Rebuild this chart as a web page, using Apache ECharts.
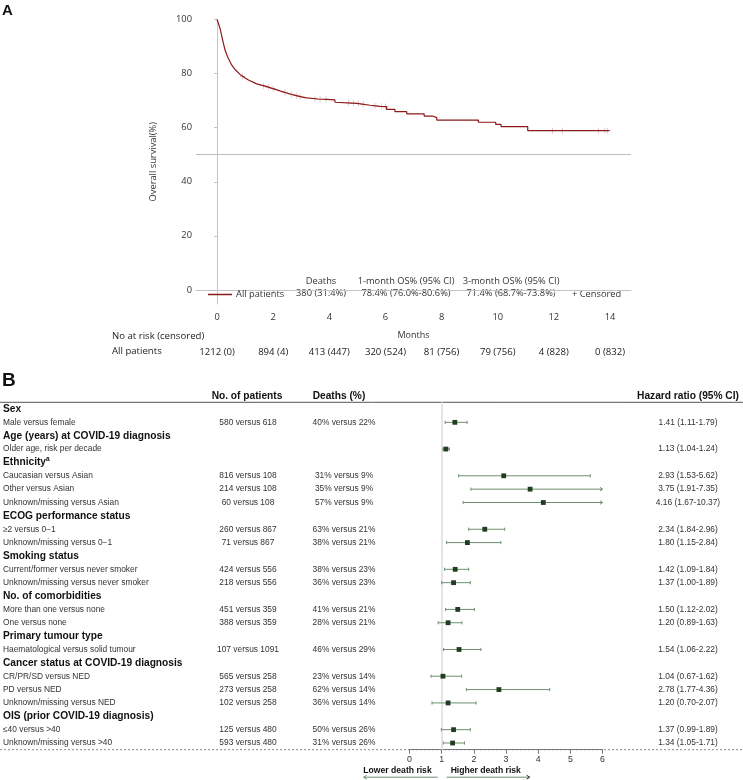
<!DOCTYPE html>
<html><head><meta charset="utf-8">
<script src="https://cdn.jsdelivr.net/npm/echarts@6/dist/echarts.min.js"></script>
<style>html,body{margin:0;padding:0;background:#fff}#c{width:743px;height:780px}</style>
</head><body><div id="c"></div>
<script>
// ---------- Panel A data ----------
const kmMonths   = [0,0.05,0.107,0.2,0.285,0.37,0.52,0.65,0.82,1.0,1.12,1.41,1.77,2.24,2.72,3.0,3.2,3.6,3.91,4.2,4.2,4.98,5.45,5.8,6.04,6.04,6.34,6.34,6.76,6.76,7.38,7.38,7.68,7.68,7.83,7.83,9.31,9.31,9.93,9.93,10.12,10.12,11.07,11.07,13.98];
const kmSurvival = [100,98.5,96.7,92.4,88.7,86.3,83.2,81.4,79.7,78.4,77.6,76.2,75.2,73.6,72.1,71.4,71.0,70.6,70.5,70.3,69.4,69.0,68.3,67.9,67.8,66.8,66.8,65.9,65.9,65.1,65.1,64.3,64.3,63.7,63.7,62.8,62.8,62.0,62.0,61.2,61.2,60.4,60.4,58.9,58.9];
const censorMonths   = [0.91,1.65,1.83,2.0,2.42,2.66,2.84,2.96,3.49,3.67,3.88,4.68,4.86,5.03,5.21,5.63,5.85,6.0,11.95,12.3,13.59,13.82,13.92];
const censorSurvival = [79.0,75.5,75.0,74.4,73.0,72.3,71.8,71.5,70.7,70.6,70.5,69.2,69.1,68.9,68.7,68.1,67.9,67.8,58.9,58.9,58.9,58.9,58.9];
const riskMonths = [0,2,4,6,8,10,12,14];
const atRisk = ['1212 (0)','894 (4)','413 (447)','320 (524)','81 (756)','79 (756)','4 (828)','0 (832)'];
const survivalTicks = [0,20,40,60,80,100];
const referenceSurvival = 50;
const statHeads  = ['Deaths','1-month OS% (95% CI)','3-month OS% (95% CI)'];
const statValues = ['380 (31.4%)','78.4% (76.0%-80.6%)','71.4% (68.7%-73.8%)'];

// ---------- Panel B data ----------
const rowLabels = ['Sex','Male versus female','Age (years) at COVID-19 diagnosis','Older age, risk per decade','Ethnicity^a',
  'Caucasian versus Asian','Other versus Asian','Unknown/missing versus Asian','ECOG performance status','\u22652 versus 0\u22121',
  'Unknown/missing versus 0\u22121','Smoking status','Current/former versus never smoker','Unknown/missing versus never smoker',
  'No. of comorbidities','More than one versus none','One versus none','Primary tumour type','Haematological versus solid tumour',
  'Cancer status at COVID-19 diagnosis','CR/PR/SD versus NED','PD versus NED','Unknown/missing versus NED',
  'OIS (prior COVID-19 diagnosis)','\u226440 versus >40','Unknown/missing versus >40'];
const patients = ['','580 versus 618','','','','816 versus 108','214 versus 108','60 versus 108','','260 versus 867','71 versus 867','',
  '424 versus 556','218 versus 556','','451 versus 359','388 versus 359','','107 versus 1091','','565 versus 258','273 versus 258',
  '102 versus 258','','125 versus 480','593 versus 480'];
const deathsPct = ['','40% versus 22%','','','','31% versus 9%','35% versus 9%','57% versus 9%','','63% versus 21%','38% versus 21%','',
  '38% versus 23%','36% versus 23%','','41% versus 21%','28% versus 21%','','46% versus 29%','','23% versus 14%','62% versus 14%',
  '36% versus 14%','','50% versus 26%','31% versus 26%'];
const hr     = [null,1.41,null,1.13,null,2.93,3.75,4.16,null,2.34,1.80,null,1.42,1.37,null,1.50,1.20,null,1.54,null,1.04,2.78,1.20,null,1.37,1.34];
const ciLow  = [null,1.11,null,1.04,null,1.53,1.91,1.67,null,1.84,1.15,null,1.09,1.00,null,1.12,0.89,null,1.06,null,0.67,1.77,0.70,null,0.99,1.05];
const ciHigh = [null,1.79,null,1.24,null,5.62,7.35,10.37,null,2.96,2.84,null,1.84,1.89,null,2.02,1.63,null,2.22,null,1.62,4.36,2.07,null,1.89,1.71];
const hrTicks = [0,1,2,3,4,5,6];
const nullHR = 1;

// ---------- layout ----------
const KM = {left:196, top:19.5, width:435, height:284.5};
const FP = {left:407.5, top:402.3, width:195, height:347.4};
const W = 743;
const sansA = '"Open Sans", "Noto Sans", sans-serif';
const sansB = '"Liberation Sans", Arial, sans-serif';
const kmGray = '#c4c4c4';
const ciColor = '#6f8f6f';
const boxColor = '#1f3d1f';

const kmData = kmMonths.map((m,i)=>[m,kmSurvival[i]]);
const censorData = censorMonths.map((m,i)=>[m,censorSurvival[i]]);
const forestData = [];
hr.forEach((v,i)=>{ if (v!==null) forestData.push([i,v,ciLow[i],ciHigh[i]]); });
const hrText = hr.map((v,i)=> v===null ? '' : v.toFixed(2)+' ('+ciLow[i].toFixed(2)+'-'+ciHigh[i].toFixed(2)+')');
const rowCats = rowLabels.map((_,i)=>String(i));

function rowLabelFmt(val, idx){
  const lab = rowLabels[idx];
  if (hr[idx]===null){
    const parts = lab.split('^');
    return '{h|'+parts[0]+'}' + (parts[1] ? '{sup|'+parts[1]+'}' : '');
  }
  return '{r|'+lab+'}';
}

const chart = echarts.init(document.getElementById('c'), null, {renderer:'canvas'});

const catAxisBase = {
  type:'category', gridIndex:1, data:rowCats, inverse:true,
  axisLine:{show:false}, axisTick:{show:false}, splitLine:{show:false}
};

const option = {
  animation:false,
  backgroundColor:'#fff',
  grid:[
    Object.assign({}, KM),
    Object.assign({}, FP)
  ],
  legend:{
    data:['All patients'], left:203, top:285, icon:'rect', itemWidth:24, itemHeight:1.5, itemGap:5,
    textStyle:{fontFamily:sansA, fontSize:9.3, color:'#333', padding:[0,0,0,-1]}
  },
  xAxis:[
    { type:'value', gridIndex:0, min:-0.75, max:14.75, position:'bottom',
      axisLine:{show:true, lineStyle:{color:kmGray}},
      axisTick:{show:true, customValues:riskMonths, length:3, lineStyle:{color:kmGray}},
      axisLabel:{customValues:riskMonths, margin:9, fontFamily:sansA, fontSize:9.3, color:'#333'},
      splitLine:{show:false},
      name:'Months', nameLocation:'middle', nameGap:27,
      nameTextStyle:{fontFamily:sansA, fontSize:9, color:'#333'} },
    { type:'value', gridIndex:0, min:-0.75, max:14.75, position:'bottom', offset:41,
      axisLine:{show:false}, axisTick:{show:false}, splitLine:{show:false},
      axisLabel:{customValues:riskMonths, margin:2, fontFamily:sansA, fontSize:9.6, color:'#222',
        formatter:(v)=>{ const k = riskMonths.indexOf(Math.round(v)); return k>=0 ? atRisk[k] : ''; }} },
    { type:'value', gridIndex:1, min:hrTicks[0], max:hrTicks[hrTicks.length-1], interval:1, position:'bottom',
      axisLine:{show:true, onZero:false, lineStyle:{color:'#777'}},
      axisTick:{show:true, length:4, lineStyle:{color:'#777'}},
      axisLabel:{margin:5, fontFamily:sansB, fontSize:8.8, color:'#333'},
      splitLine:{show:false} }
  ],
  yAxis:[
    { type:'value', gridIndex:0, min:-5.2, max:100,
      axisLine:{show:true, lineStyle:{color:kmGray}},
      axisTick:{show:true, customValues:survivalTicks, length:3, lineStyle:{color:kmGray}},
      axisLabel:{customValues:survivalTicks, margin:4, fontFamily:sansA, fontSize:9.3, color:'#333'},
      splitLine:{show:false},
      name:'Overall survival(%)', nameLocation:'middle', nameGap:38, nameRotate:90,
      nameTextStyle:{fontFamily:sansA, fontSize:9.3, color:'#333'} },
    Object.assign({}, catAxisBase, { position:'left',
      axisLabel:{interval:0, align:'left', margin:FP.left-1, formatter:rowLabelFmt,
        rich:{
          h:{fontFamily:sansB, fontSize:10.2, fontWeight:'bold', color:'#111'},
          sup:{fontFamily:sansB, fontSize:6.5, fontWeight:'bold', color:'#111', padding:[0,0,7,0]},
          r:{fontFamily:sansB, fontSize:8.4, color:'#333'}
        }} }),
    Object.assign({}, catAxisBase, { position:'left',
      axisLabel:{interval:0, align:'center', margin:FP.left-246, fontFamily:sansB, fontSize:8.4, color:'#333',
        formatter:(v,i)=>patients[i]} }),
    Object.assign({}, catAxisBase, { position:'left',
      axisLabel:{interval:0, align:'center', margin:FP.left-342, fontFamily:sansB, fontSize:8.4, color:'#333',
        formatter:(v,i)=>deathsPct[i]} }),
    Object.assign({}, catAxisBase, { position:'right',
      axisLabel:{interval:0, align:'center', margin:688-(FP.left+FP.width), fontFamily:sansB, fontSize:8.4, color:'#333',
        formatter:(v,i)=>hrText[i]} })
  ],
  series:[
    { name:'All patients', type:'line', xAxisIndex:0, yAxisIndex:0, data:kmData, symbol:'none',
      lineStyle:{color:'#8b1a1a', width:1.2}, itemStyle:{color:'#8b1a1a'}, z:3,
      markLine:{silent:true, symbol:'none', label:{show:false},
        lineStyle:{color:'#bdbdbd', width:1, type:'solid'}, data:[{yAxis:referenceSurvival}]} },
    { name:'Censored', type:'scatter', xAxisIndex:0, yAxisIndex:0, data:censorData,
      symbol:'path://M-0.12,-1H0.12V1H-0.12Z M-1,-0.12H1V0.12H-1Z', symbolSize:6,
      itemStyle:{color:'#d7a3a3', opacity:0.85}, z:2 },
    { name:'HR', type:'custom', xAxisIndex:2, yAxisIndex:1, data:forestData, clip:false,
      encode:{x:[1,2,3], y:0}, z:3,
      renderItem:function(params, api){
        const row = api.value(0), est = api.value(1), lo = api.value(2), hi = api.value(3);
        const xMaxVal = hrTicks[hrTicks.length-1];
        const pe = api.coord([est,row]);
        const yc = pe[1];
        const xl = api.coord([lo,row])[0];
        const clipped = hi > xMaxVal;
        const xh = api.coord([clipped ? xMaxVal : hi, row])[0];
        const st = {stroke:ciColor, lineWidth:1, fill:null};
        const ch = [
          {type:'line', shape:{x1:xl,y1:yc,x2:xh,y2:yc}, style:st},
          {type:'line', shape:{x1:xl,y1:yc-1.6,x2:xl,y2:yc+1.6}, style:st},
          clipped ? {type:'polyline', shape:{points:[[xh-2.5,yc-1.8],[xh,yc],[xh-2.5,yc+1.8]]}, style:st}
                  : {type:'line', shape:{x1:xh,y1:yc-1.6,x2:xh,y2:yc+1.6}, style:st},
          {type:'rect', shape:{x:pe[0]-2.4,y:yc-2.4,width:4.8,height:4.8}, style:{fill:boxColor}}
        ];
        return {type:'group', children:ch};
      },
      markLine:{silent:true, symbol:'none', label:{show:false}, z:1,
        lineStyle:{color:'#dcdcdc', width:1.5, type:'solid'}, data:[{xAxis:nullHR}]} }
  ]
};
chart.setOption(option);

// ---------- annotations ----------
const x1 = chart.convertToPixel({xAxisIndex:2}, nullHR);
const axisY = FP.top + FP.height;
const statX = [321, 406, 511];
const g = [];
g.push({type:'text', left:2, top:3, style:{text:'A', font:'bold 15px '+sansB, fill:'#111'}});
g.push({type:'text', left:2, top:371, style:{text:'B', font:'bold 19px '+sansB, fill:'#111'}});
statHeads.forEach((t,i)=>{
  g.push({type:'text', x:statX[i], y:281, style:{text:t, font:'9.3px '+sansA, fill:'#333', align:'center', verticalAlign:'middle'}});
  g.push({type:'text', x:statX[i], y:293, style:{text:statValues[i], font:'9.3px '+sansA, fill:'#333', align:'center', verticalAlign:'middle'}});
});
g.push({type:'text', x:572, y:294.5, style:{text:'+ Censored', font:'9.3px '+sansA, fill:'#333', align:'left', verticalAlign:'middle'}});
g.push({type:'text', x:112, y:336, style:{text:'No at risk (censored)', font:'9.6px '+sansA, fill:'#222', align:'left', verticalAlign:'middle'}});
g.push({type:'text', x:112, y:351, style:{text:'All patients', font:'9.6px '+sansA, fill:'#222', align:'left', verticalAlign:'middle'}});
// forest header
g.push({type:'text', x:247, y:396, style:{text:'No. of patients', font:'bold 10.2px '+sansB, fill:'#111', align:'center', verticalAlign:'middle'}});
g.push({type:'text', x:339, y:396, style:{text:'Deaths (%)', font:'bold 10.2px '+sansB, fill:'#111', align:'center', verticalAlign:'middle'}});
g.push({type:'text', x:688, y:396, style:{text:'Hazard ratio (95% CI)', font:'bold 10.2px '+sansB, fill:'#111', align:'center', verticalAlign:'middle'}});
g.push({type:'line', shape:{x1:0,y1:FP.top,x2:W,y2:FP.top}, style:{stroke:'#555', lineWidth:1}});
g.push({type:'line', shape:{x1:0,y1:axisY,x2:W,y2:axisY}, style:{stroke:'#888', lineWidth:1, lineDash:[2,2]}, z:-1});
// risk direction arrows
const arrowY = axisY + 27.5;
const ac = '#6f8f6f';
g.push({type:'text', x:x1-10, y:axisY+20.5, style:{text:'Lower death risk', font:'bold 8.6px '+sansB, fill:'#111', align:'right', verticalAlign:'middle'}});
g.push({type:'text', x:x1+9, y:axisY+20.5, style:{text:'Higher death risk', font:'bold 8.6px '+sansB, fill:'#111', align:'left', verticalAlign:'middle'}});
g.push({type:'line', shape:{x1:x1-4,y1:arrowY,x2:x1-78,y2:arrowY}, style:{stroke:ac, lineWidth:1}});
g.push({type:'polyline', shape:{points:[[x1-75,arrowY-2],[x1-78,arrowY],[x1-75,arrowY+2]]}, style:{stroke:ac, lineWidth:1, fill:null}});
g.push({type:'line', shape:{x1:x1+5,y1:arrowY,x2:x1+88,y2:arrowY}, style:{stroke:ac, lineWidth:1}});
g.push({type:'polyline', shape:{points:[[x1+85,arrowY-2],[x1+88,arrowY],[x1+85,arrowY+2]]}, style:{stroke:'#222', lineWidth:1, fill:null}});
chart.setOption({graphic:{elements:g}});
</script>
</body></html>
